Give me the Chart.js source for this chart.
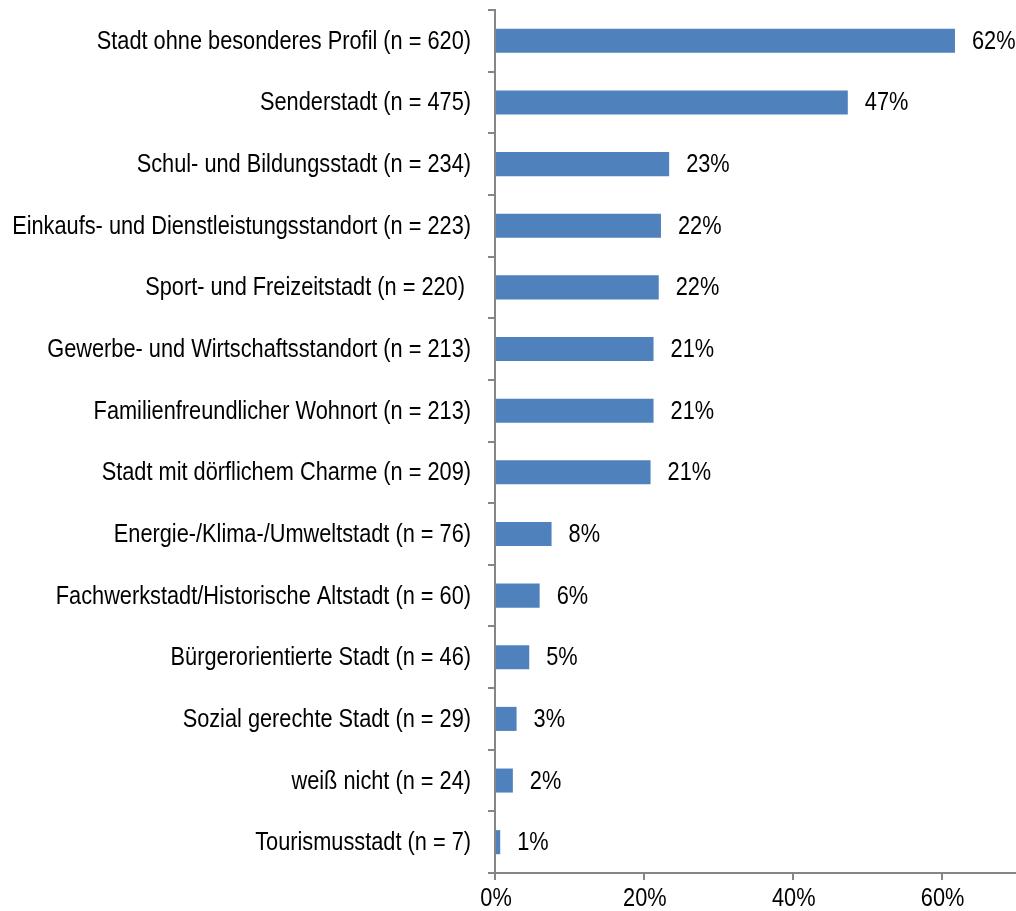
<!DOCTYPE html>
<html>
<head>
<meta charset="utf-8">
<script src="https://cdn.jsdelivr.net/npm/chart.js@4.4.0/dist/chart.umd.min.js"></script>
<style>
  html, body { margin: 0; padding: 0; background: #fff; }
  #wrap { width: 1016px; height: 911px; }
</style>
</head>
<body>
<div id="wrap"><canvas id="profileChart" width="1016" height="911"></canvas></div>
<script>
// Categories (from top to bottom)
var categories = [
  'Stadt ohne besonderes Profil (n = 620)',
  'Senderstadt (n = 475)',
  'Schul- und Bildungsstadt (n = 234)',
  'Einkaufs- und Dienstleistungsstandort (n = 223)',
  'Sport- und Freizeitstadt (n = 220) ',
  'Gewerbe- und Wirtschaftsstandort (n = 213)',
  'Familienfreundlicher Wohnort (n = 213)',
  'Stadt mit dörflichem Charme (n = 209)',
  'Energie-/Klima-/Umweltstadt (n = 76)',
  'Fachwerkstadt/Historische Altstadt (n = 60)',
  'Bürgerorientierte Stadt (n = 46)',
  'Sozial gerechte Stadt (n = 29)',
  'weiß nicht (n = 24)',
  'Tourismusstadt (n = 7)'
];

// Share of answers in percent
var shares = [61.8, 47.4, 23.4, 22.3, 22.0, 21.3, 21.3, 20.9, 7.6, 6.0, 4.6, 2.9, 2.4, 0.7];

// x axis tick labels
var xTicks = [0, 20, 40, 60];

var axisColor = '#868686';
var labelFont = '25px "Liberation Sans", Arial, sans-serif';
var narrow = 0.87; // the original text is a condensed Arial

// draw condensed text at x,y
function narrowText(ctx, text, x, y, align) {
  ctx.save();
  ctx.translate(x, y);
  ctx.scale(narrow, 1);
  ctx.textAlign = align;
  ctx.fillText(text, 0, 0);
  ctx.restore();
}

// All labels: category names, x ticks and percent values right of bars
var textLabels = {
  id: 'textLabels',
  afterDraw: function(chart) {
    var ctx = chart.ctx;
    var xs = chart.scales.x, ys = chart.scales.y;
    ctx.save();
    ctx.font = labelFont;
    ctx.fillStyle = '#000';
    ctx.textBaseline = 'alphabetic';

    categories.forEach(function(c, i) {
      narrowText(ctx, c, ys.right - 24, ys.getPixelForValue(i) + 8, 'right');
    });

    xTicks.forEach(function(v) {
      narrowText(ctx, v + '%', xs.getPixelForValue(v) + 1, xs.top + 33, 'center');
    });

    chart.getDatasetMeta(0).data.forEach(function(bar, i) {
      narrowText(ctx, Math.round(shares[i]) + '%', bar.x + 17, bar.y + 8, 'left');
    });
    ctx.restore();
  }
};

var ctx = document.getElementById('profileChart').getContext('2d');
var chart = new Chart(ctx, {
  type: 'bar',
  data: {
    labels: categories,
    datasets: [{
      data: shares,
      backgroundColor: '#4F81BD',
      borderWidth: 0,
      barPercentage: 0.39,
      categoryPercentage: 1.0
    }]
  },
  options: {
    indexAxis: 'y',
    responsive: false,
    animation: false,
    layout: { padding: { top: 10, right: 0, left: 0, bottom: 0 } },
    plugins: {
      legend: { display: false },
      tooltip: { enabled: false }
    },
    scales: {
      x: {
        min: 0,
        max: 70,
        afterBuildTicks: function(scale) {
          scale.ticks = xTicks.map(function(v) { return { value: v }; });
        },
        afterFit: function(scale) {
          scale.height = 38;
          scale.paddingLeft = 0;
          scale.paddingRight = 0;
        },
        ticks: { display: false },
        grid: {
          drawOnChartArea: false,
          color: axisColor,
          lineWidth: 2,
          tickLength: 7
        },
        border: { color: axisColor, width: 2 }
      },
      y: {
        afterFit: function(scale) {
          scale.width = 495;
          scale.paddingTop = 0;
          scale.paddingBottom = 0;
        },
        ticks: { display: false },
        grid: {
          offset: true,
          drawOnChartArea: false,
          color: axisColor,
          lineWidth: 2,
          tickLength: 7
        },
        border: { color: axisColor, width: 2 }
      }
    }
  },
  plugins: [textLabels]
});
</script>
</body>
</html>
